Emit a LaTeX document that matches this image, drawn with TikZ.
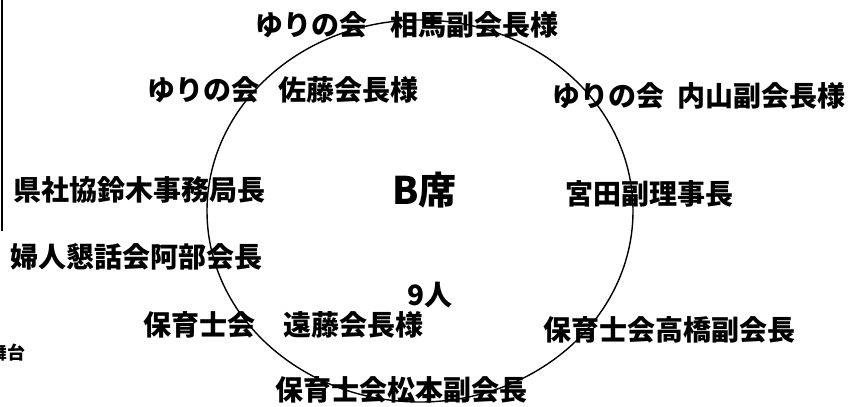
\documentclass[tikz,border=0pt]{standalone}
\usepackage{fontspec}
\usetikzlibrary{shapes.geometric}
\newfontfamily\jpfont{Noto Sans CJK JP}
\newcommand{\gap}[1]{\hspace*{#1pt}}
\begin{document}
\begin{tikzpicture}[x=1pt,y=-1pt,
  lbl/.style={font=\jpfont\bfseries\fontsize{28}{28}\selectfont, inner sep=0pt, anchor=west},
  big/.style={font=\jpfont\bfseries\fontsize{38}{38}\selectfont, inner sep=0pt, anchor=west},
  mid/.style={font=\jpfont\bfseries\fontsize{28}{28}\selectfont, inner sep=0pt, anchor=west},
  small/.style={font=\jpfont\bfseries\fontsize{18}{18}\selectfont, inner sep=0pt, anchor=east},
  rim/.style={draw=black, line width=1.4pt},
  edge/.style={draw=black, line width=1.4pt}]
\useasboundingbox (0,0) rectangle (852,407);
% table
\node[rim, ellipse, minimum width=426pt, minimum height=382pt, inner sep=0pt] (table) at (420,211) {};
% left frame line
\coordinate (ftop) at (2,0);
\coordinate (fbot) at (2,231);
\draw[edge] (ftop) -- (fbot);
% labels
\node[lbl] (soma) at (255,25) {ゆりの会\gap{23}相馬副会長様};
\node[lbl] (sato) at (147,90) {ゆりの会\gap{19}佐藤会長様};
\node[lbl] (uchiyama) at (552,96) {ゆりの会\gap{13}内山副会長様};
\node[lbl] (suzuki) at (13,190) {県社協鈴木事務局長};
\node[big] (bseki) at (392,190) {B席};
\node[lbl] (miyata) at (565,194) {宮田副理事長};
\node[lbl] (abe) at (10,257) {婦人懇話会阿部会長};
\node[mid] (nine) at (407,295) {9人};
\node[lbl] (endo) at (143,325) {保育士会\gap{28}遠藤会長様};
\node[lbl] (takahashi) at (543,330) {保育士会高橋副会長};
\node[lbl] (matsumoto) at (275,390) {保育士会松本副会長};
\node[small] (stage) at (26,353) {舞台};
\end{tikzpicture}
\end{document}
